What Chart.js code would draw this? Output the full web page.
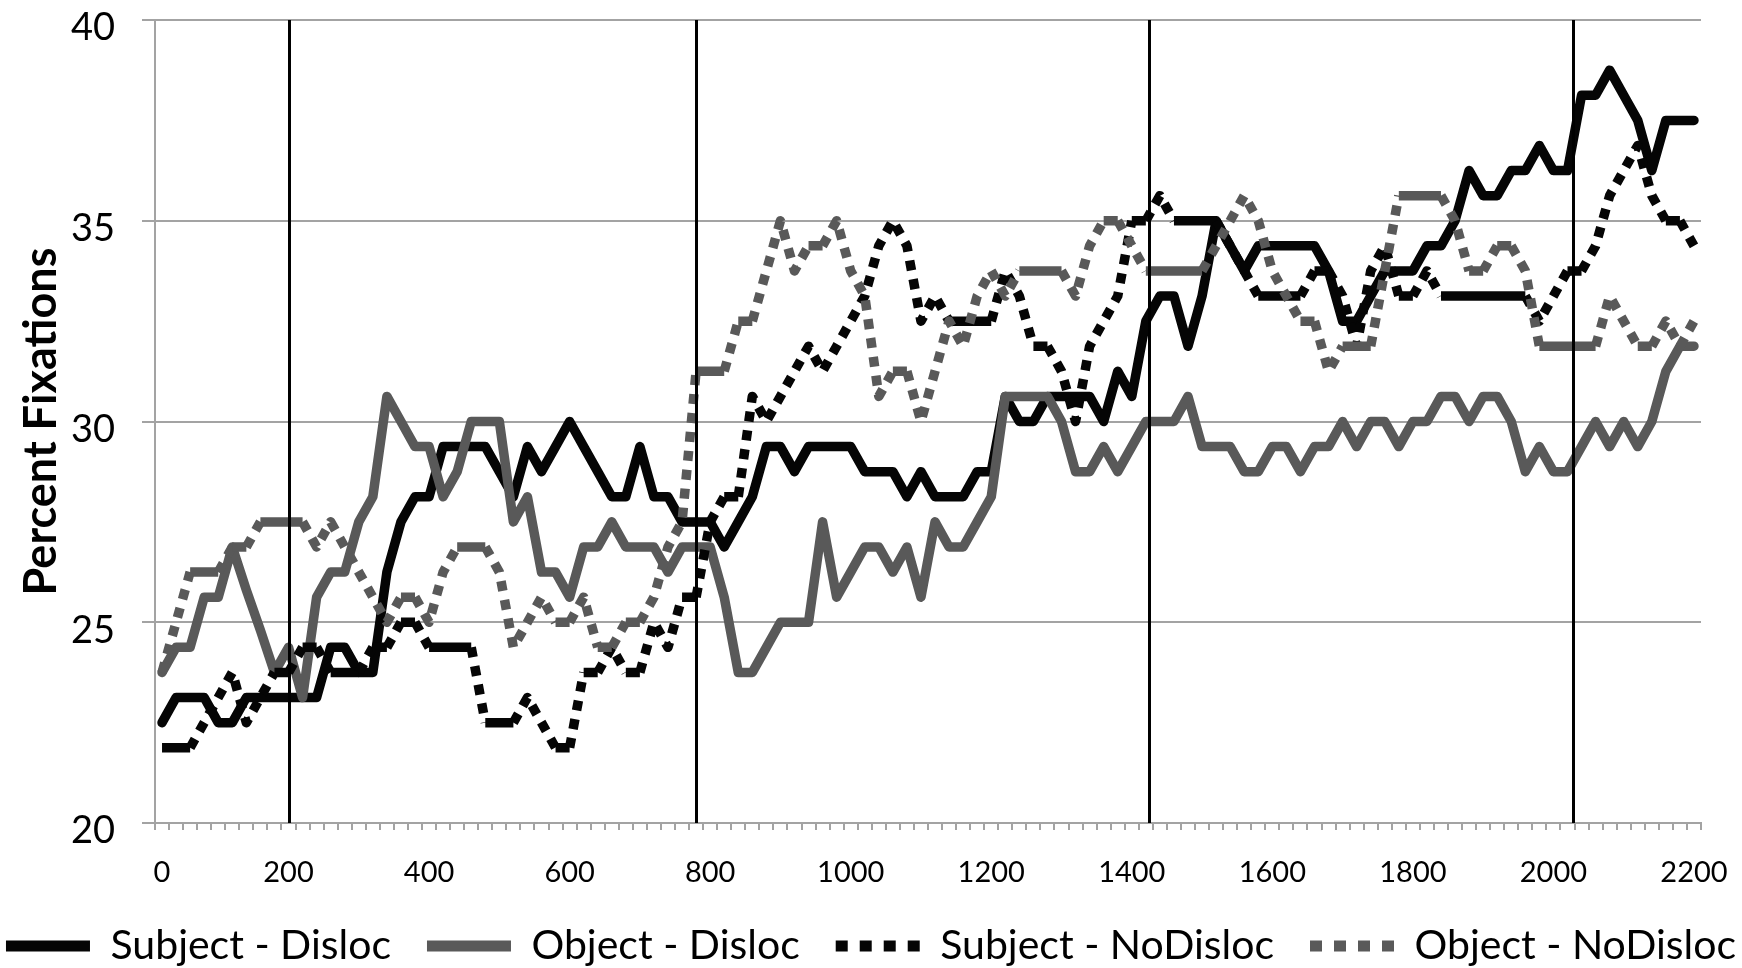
<!DOCTYPE html>
<html>
<head>
<meta charset="utf-8">
<script src="https://cdn.jsdelivr.net/npm/chart.js@4.4.1/dist/chart.umd.min.js"></script>
<style>
  html, body { margin: 0; padding: 0; background: #ffffff; }
  #wrap { width: 1742px; height: 968px; }
</style>
</head>
<body>
<div id="wrap"><canvas id="fixations" width="1742" height="968"></canvas></div>
<script>
// 110 time bins of 20 ms; bin k covers the window ending at 20*(k+1) ms
const binCount = 110;

// x-axis labels and the bin each one sits on
const xTickLabels = ['0', '200', '400', '600', '800', '1000', '1200', '1400', '1600', '1800', '2000', '2200'];
const xTickBins   = [0, 9, 19, 29, 39, 49, 59, 69, 79, 89, 99, 109];

// word-onset markers (ms)
const eventTimes = [200, 780, 1425, 2028];

// percent fixations per bin
const subjectDisloc = [
  22.5, 23.125, 23.125, 23.125, 22.5, 22.5, 23.125, 23.125, 23.125, 23.125,
  23.125, 23.125, 24.375, 24.375, 23.75, 23.75, 26.25, 27.5, 28.125, 28.125,
  29.375, 29.375, 29.375, 29.375, 28.75, 28.125, 29.375, 28.75, 29.375, 30,
  29.375, 28.75, 28.125, 28.125, 29.375, 28.125, 28.125, 27.5, 27.5, 27.5,
  26.875, 27.5, 28.125, 29.375, 29.375, 28.75, 29.375, 29.375, 29.375, 29.375,
  28.75, 28.75, 28.75, 28.125, 28.75, 28.125, 28.125, 28.125, 28.75, 28.75,
  30.625, 30, 30, 30.625, 30.625, 30.625, 30.625, 30, 31.25, 30.625,
  32.5, 33.125, 33.125, 31.875, 33.125, 35, 34.375, 33.75, 34.375, 34.375,
  34.375, 34.375, 34.375, 33.75, 32.5, 32.5, 33.125, 33.75, 33.75, 33.75,
  34.375, 34.375, 35, 36.25, 35.625, 35.625, 36.25, 36.25, 36.875, 36.25,
  36.25, 38.125, 38.125, 38.75, 38.125, 37.5, 36.25, 37.5, 37.5, 37.5
];

const objectDisloc = [
  23.75, 24.375, 24.375, 25.625, 25.625, 26.875, 25.8, 24.8, 23.75, 24.375,
  23.125, 25.625, 26.25, 26.25, 27.5, 28.125, 30.625, 30, 29.375, 29.375,
  28.125, 28.75, 30, 30, 30, 27.5, 28.125, 26.25, 26.25, 25.625,
  26.875, 26.875, 27.5, 26.875, 26.875, 26.875, 26.25, 26.875, 26.875, 26.875,
  25.625, 23.75, 23.75, 24.375, 25, 25, 25, 27.5, 25.625, 26.25,
  26.875, 26.875, 26.25, 26.875, 25.625, 27.5, 26.875, 26.875, 27.5, 28.125,
  30.625, 30.625, 30.625, 30.625, 30, 28.75, 28.75, 29.375, 28.75, 29.375,
  30, 30, 30, 30.625, 29.375, 29.375, 29.375, 28.75, 28.75, 29.375,
  29.375, 28.75, 29.375, 29.375, 30, 29.375, 30, 30, 29.375, 30,
  30, 30.625, 30.625, 30, 30.625, 30.625, 30, 28.75, 29.375, 28.75,
  28.75, 29.375, 30, 29.375, 30, 29.375, 30, 31.25, 31.875, 31.875
];

const subjectNoDisloc = [
  21.875, 21.875, 21.875, 22.5, 23.125, 23.75, 22.5, 23.125, 23.75, 23.75,
  24.375, 24.375, 23.75, 23.75, 23.75, 24.375, 24.375, 25, 25, 24.375,
  24.375, 24.375, 24.375, 22.5, 22.5, 22.5, 23.125, 22.5, 21.875, 21.875,
  23.75, 23.75, 24.375, 23.75, 23.75, 25, 24.375, 25.625, 25.625, 27.5,
  28.125, 28.125, 30.625, 30, 30.625, 31.25, 31.875, 31.25, 31.875, 32.5,
  33.125, 34.375, 35, 34.375, 32.5, 33.125, 32.5, 32.5, 32.5, 32.5,
  33.75, 33.125, 31.875, 31.875, 31.25, 30, 31.875, 32.5, 33.125, 35,
  35, 35.625, 35, 35, 35, 35, 34.375, 33.75, 33.125, 33.125,
  33.125, 33.125, 33.75, 33.75, 33.125, 31.875, 33.75, 34.375, 33.125, 33.125,
  33.75, 33.125, 33.125, 33.125, 33.125, 33.125, 33.125, 33.125, 32.5, 33.125,
  33.75, 33.75, 34.375, 35.625, 36.25, 36.875, 35.625, 35, 35, 34.375
];

const objectNoDisloc = [
  23.75, 25, 26.25, 26.25, 26.25, 26.875, 26.875, 27.5, 27.5, 27.5,
  27.5, 26.875, 27.5, 26.875, 26.25, 25.625, 25, 25.625, 25.625, 25,
  26.25, 26.875, 26.875, 26.875, 26.25, 24.375, 25, 25.625, 25, 25,
  25.625, 24.375, 24.375, 25, 25, 25.625, 26.875, 27.5, 31.25, 31.25,
  31.25, 32.5, 32.5, 33.75, 35, 33.75, 34.375, 34.375, 35, 33.75,
  33.125, 30.625, 31.25, 31.25, 30, 31.25, 32.5, 31.875, 33.125, 33.75,
  33.125, 33.75, 33.75, 33.75, 33.75, 33.125, 34.375, 35, 35, 34.375,
  33.75, 33.75, 33.75, 33.75, 33.75, 34.375, 35, 35.625, 35, 33.75,
  33.125, 32.5, 32.5, 31.25, 31.875, 31.875, 31.875, 33.75, 35.625, 35.625,
  35.625, 35.625, 35, 33.75, 33.75, 34.375, 34.375, 33.75, 31.875, 31.875,
  31.875, 31.875, 31.875, 33.125, 32.5, 31.875, 31.875, 32.5, 31.875, 32.5
];

const BLACK = '#050505';
const GREY = '#595959';
const AXIS_GREY = '#a3a3a3';
const LINE_W = 9.5;
const DOT = [10, 9];
const LEGEND_DOT = [12, 12];

const binLabels = Array.from({ length: binCount }, (_, k) => String(20 * (k + 1)));

// level stretches of the dotted series read as a continuous bar
const dottedSegment = ctx => (ctx.p0.parsed.y === ctx.p1.parsed.y ? [] : DOT);

function series(label, values, color, dotted, order) {
  return {
    label,
    data: values,
    borderColor: color,
    backgroundColor: color,
    borderWidth: LINE_W,
    borderDash: dotted ? DOT : [],
    borderCapStyle: dotted ? 'butt' : 'round',
    borderJoinStyle: 'round',
    pointRadius: 0,
    pointHoverRadius: 0,
    tension: 0,
    fill: false,
    order,
    segment: dotted ? { borderDash: dottedSegment } : undefined
  };
}

const eventLines = {
  id: 'eventLines',
  afterDatasetsDraw(chart) {
    const { ctx, chartArea, scales } = chart;
    ctx.save();
    ctx.strokeStyle = '#000000';
    ctx.lineWidth = 3;
    eventTimes.forEach(t => {
      const px = Math.round(scales.x.getPixelForValue(t / 20 - 1)) + 0.5;
      ctx.beginPath();
      ctx.moveTo(px, chartArea.top);
      ctx.lineTo(px, chartArea.bottom);
      ctx.stroke();
    });
    ctx.restore();
  }
};

Chart.defaults.font.family = 'Lato, "Open Sans", sans-serif';
Chart.defaults.color = '#000000';

new Chart(document.getElementById('fixations'), {
  type: 'line',
  data: {
    labels: binLabels,
    datasets: [
      series('Subject - Disloc', subjectDisloc, BLACK, false, 4),
      series('Object - Disloc', objectDisloc, GREY, false, 3),
      series('Subject - NoDisloc', subjectNoDisloc, BLACK, true, 2),
      series('Object - NoDisloc', objectNoDisloc, GREY, true, 1)
    ]
  },
  options: {
    responsive: false,
    animation: false,
    devicePixelRatio: 1,
    layout: { padding: { top: 20, left: -45, right: -45, bottom: -8.5 } },
    scales: {
      x: {
        type: 'category',
        offset: true,
        grid: {
          offset: true,
          drawOnChartArea: false,
          drawTicks: true,
          tickLength: 7,
          color: AXIS_GREY,
          lineWidth: 2
        },
        border: { color: AXIS_GREY, width: 2 },
        ticks: {
          autoSkip: false,
          maxRotation: 0,
          minRotation: 0,
          padding: 25,
          font: { size: 29 },
          callback: (value, index) => {
            const p = xTickBins.indexOf(index);
            return p >= 0 ? xTickLabels[p] : '';
          }
        },
        afterFit: s => {
          s.height = 66.5;
          s.paddingLeft = 0;
          s.paddingRight = 0;
        }
      },
      y: {
        type: 'linear',
        min: 20,
        max: 40,
        grid: { color: AXIS_GREY, lineWidth: 2, tickLength: 13 },
        border: { color: AXIS_GREY, width: 2 },
        ticks: {
          stepSize: 5,
          padding: 27,
          labelOffset: 8,
          font: { size: 38, lineHeight: 1 }
        },
        title: {
          display: true,
          text: 'Percent Fixations',
          font: { size: 45, weight: 'bold' },
          padding: { top: 59, bottom: 0 }
        },
        afterFit: s => {
          s.width = 200;
          s.paddingTop = 0;
          s.paddingBottom = 0;
        }
      },
      yRight: {
        type: 'linear',
        position: 'right',
        grid: { display: false, drawTicks: false },
        border: { display: false },
        ticks: { display: false },
        afterFit: s => {
          s.width = 86;
          s.paddingTop = 0;
          s.paddingBottom = 0;
        }
      }
    },
    plugins: {
      tooltip: { enabled: false },
      legend: {
        position: 'bottom',
        labels: {
          usePointStyle: true,
          pointStyleWidth: 84,
          boxHeight: 10,
          padding: 36,
          font: { size: 41 },
          color: '#000000',
          generateLabels: chart => chart.data.datasets.map((ds, i) => ({
            text: ds.label,
            fillStyle: ds.borderColor,
            strokeStyle: ds.borderColor,
            fontColor: '#000000',
            lineWidth: 11,
            lineDash: ds.borderDash.length ? LEGEND_DOT : [],
            lineCap: 'butt',
            pointStyle: 'line',
            hidden: false,
            datasetIndex: i
          }))
        }
      }
    }
  },
  plugins: [eventLines]
});
</script>
</body>
</html>
